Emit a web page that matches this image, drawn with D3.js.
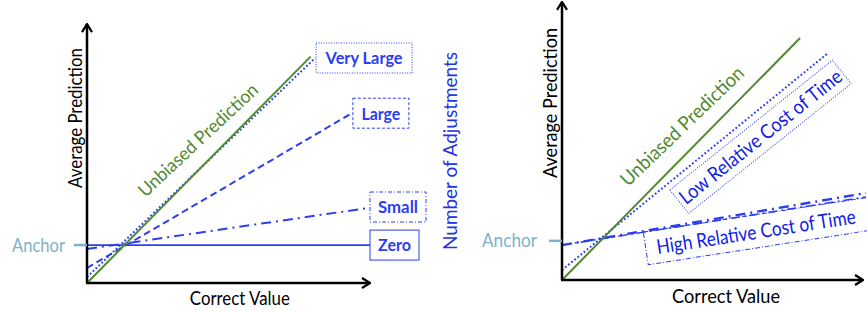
<!DOCTYPE html>
<html lang="en">
<head>
<meta charset="utf-8">
<title>anchor adjustments</title>
<script src="https://cdn.jsdelivr.net/npm/d3@7"></script>
<style>
	body { margin: 0; background: #fff; }
	text { font-family: Lato, "Open Sans", sans-serif; }
</style>
</head>
<body>
<div id="chart"></div>
<script>
// values are in "axis units", both axes run 0..100 at the same pixel rate
var anchorLeft = 13.4
var anchorRight = 13

// left panel: prediction lines by number of adjustments
var leftUnbiased = [[0, 0], [79, 80]]
var leftVeryLarge = [[0, 2.1], [80.6, 79.5]]
var leftLarge = [[0, 5.3], [93.6, 60]]
var leftSmall = [[0, 12], [99.3, 26.5]]
var leftZero = [[0, 13.4], [100, 13.4]]
var adjustLabels = ["Very Large", "Large", "Small", "Zero"]

// right panel: relative cost of time
var rightUnbiased = [[0, 0], [79.1, 80.4]]
var rightLow = [[0, 3.3], [88, 75.1]]
var rightHigh = [[0, 11.6], [101, 28.9]]
var rightHigh2 = [[0, 11.6], [101, 27.6]]
var costLabels = ["Low Relative Cost of Time", "High Relative Cost of Time"]

var w = 867
var h = 312
var blue = "#2c3ef2"
var green = "#4f8a2f"
var anchorCol = "#7db2c9"

var svg = d3.select("#chart").append("svg")
	.attr("width", w)
	.attr("height", h)

svg.append("defs").append("marker")
	.attr("id", "arrow")
	.attr("viewBox", "0 0 10 12")
	.attr("refX", 9).attr("refY", 6)
	.attr("markerWidth", 10).attr("markerHeight", 12)
	.attr("markerUnits", "userSpaceOnUse")
	.attr("orient", "auto")
	.append("path")
	.attr("d", "M1,1 L9,6 L1,11")
	.attr("fill", "none")
	.attr("stroke", "#000")
	.attr("stroke-width", 2.2)

function axes(g, x, y, yTop, xLabel, labelAt, xLabelY, len) {
	g.append("line")
		.attr("x1", x(0)).attr("y1", y(0))
		.attr("x2", x(0)).attr("y2", y(yTop))
		.attr("stroke", "#000").attr("stroke-width", 2.5)
		.attr("marker-end", "url(#arrow)")
	g.append("line")
		.attr("x1", x(0) - 1).attr("y1", y(0))
		.attr("x2", x(100)).attr("y2", y(0))
		.attr("stroke", "#000").attr("stroke-width", 2.5)
		.attr("marker-end", "url(#arrow)")
	g.append("text")
		.text(xLabel)
		.attr("x", x(labelAt))
		.attr("y", xLabelY)
		.attr("text-anchor", "middle")
		.attr("font-size", 18.5)
		.attr("fill", "#000")
		.attr("textLength", len)
		.attr("lengthAdjust", "spacingAndGlyphs")
}

function series(g, data, x, y, color, width, dash) {
	var line = d3.line()
		.x(function(d) { return x(d[0]) })
		.y(function(d) { return y(d[1]) })
	g.append("path")
		.datum(data)
		.attr("d", line)
		.attr("fill", "none")
		.attr("stroke", color)
		.attr("stroke-width", width)
		.style("stroke-dasharray", dash)
}

function anchorMark(g, x, y, val, textX, len) {
	g.append("line")
		.attr("x1", x(0) - 13).attr("x2", x(0))
		.attr("y1", y(val)).attr("y2", y(val))
		.attr("stroke", anchorCol).attr("stroke-width", 2.5)
	g.append("text")
		.text("Anchor")
		.attr("x", textX)
		.attr("y", y(val))
		.attr("dy", "0.35em")
		.attr("font-size", 18.5)
		.attr("fill", anchorCol)
		.attr("textLength", len)
		.attr("lengthAdjust", "spacingAndGlyphs")
}

function rotLabel(g, txt, cx, cy, angle, size, color, len) {
	g.append("text")
		.text(txt)
		.attr("transform", "translate(" + cx + "," + cy + ") rotate(" + angle + ")")
		.attr("text-anchor", "middle")
		.attr("dy", "0.35em")
		.attr("font-size", size)
		.attr("fill", color)
		.attr("textLength", len)
		.attr("lengthAdjust", "spacingAndGlyphs")
}

// ---------- left panel
var xL = d3.scaleLinear().domain([0, 100]).range([87, 370])
var yL = d3.scaleLinear().domain([0, 100]).range([283, 0])
var gL = svg.append("g")

series(gL, leftZero, xL, yL, blue, 1.8, null)
series(gL, leftSmall, xL, yL, blue, 2, "10,5,2,5")
series(gL, leftLarge, xL, yL, blue, 2, "7,4")
series(gL, leftVeryLarge, xL, yL, blue, 2, "1.8,2.2")
series(gL, leftUnbiased, xL, yL, green, 2, null)
axes(gL, xL, yL, 91.5, "Correct Value", 54, 305, 100)
anchorMark(gL, xL, yL, anchorLeft, 12, 53)

rotLabel(gL, "Average Prediction", 75, 118, -90, 19, "#000", 140)
rotLabel(gL, "Unbiased Prediction", 198, 140, -43, 18.5, green, 156)
rotLabel(gL, "Number of Adjustments", 450, 151, -90, 19.5, "#2233e8", 198)

// label boxes sit at the right end of each adjustment line
var leftEnds = [leftVeryLarge, leftLarge, leftSmall, leftZero]
var boxW = [96, 56, 56, 49]
var boxDash = ["1,1.5", "3,2", "4,2,1,2", null]
var textW = [77, 39, 40, 33]
leftEnds.forEach(function(s, i) {
	var end = s[s.length - 1]
	var bx = xL(end[0]) + 1
	var by = yL(end[1]) - 15
	if (i == 3) { bx = 370 }
	if (i == 2) { bx = 370; by = yL(end[1]) - 16 }
	gL.append("rect")
		.attr("x", bx).attr("y", by)
		.attr("width", boxW[i]).attr("height", 30)
		.attr("fill", "#fff")
		.attr("stroke", blue)
		.attr("stroke-width", 1)
		.style("stroke-dasharray", boxDash[i])
	gL.append("text")
		.text(adjustLabels[i])
		.attr("x", bx + boxW[i] / 2)
		.attr("y", by + 15)
		.attr("dy", "0.36em")
		.attr("text-anchor", "middle")
		.attr("font-size", 17.5)
		.attr("font-weight", "bold")
		.attr("fill", blue)
		.attr("textLength", textW[i])
		.attr("lengthAdjust", "spacingAndGlyphs")
})

// ---------- right panel
var xR = d3.scaleLinear().domain([0, 100]).range([562, 863])
var yR = d3.scaleLinear().domain([0, 100]).range([280, -21])
var gR = svg.append("g")

series(gR, rightHigh2, xR, yR, blue, 1.6, "9,4,2,4")
series(gR, rightHigh, xR, yR, blue, 2.4, "10,5,2,5")
series(gR, rightLow, xR, yR, blue, 2, "1.8,2.2")
series(gR, rightUnbiased, xR, yR, green, 2, null)
axes(gR, xR, yR, 92.4, "Correct Value", 54.5, 303, 108)
anchorMark(gR, xR, yR, anchorRight, 482, 55)

rotLabel(gR, "Average Prediction", 550, 103, -90, 20, "#000", 150)
rotLabel(gR, "Unbiased Prediction", 682, 126, -43.8, 19.5, green, 163)

// low cost box follows the dotted line
var lowEnd = rightLow[1]
var gLow = gR.append("g")
	.attr("transform", "translate(" + (xR(lowEnd[0]) - 157) + "," + (yR(lowEnd[1]) + 136) + ") rotate(-38.6)")
gLow.append("rect")
	.attr("width", 208).attr("height", 30)
	.attr("fill", "none")
	.attr("stroke", blue).attr("stroke-width", 1)
	.style("stroke-dasharray", "1,1.5")
gLow.append("text")
	.text(costLabels[0])
	.attr("x", 104).attr("y", 15)
	.attr("dy", "0.35em")
	.attr("text-anchor", "middle")
	.attr("font-size", 20)
	.attr("fill", "#1020e6")
	.attr("textLength", 202)
	.attr("lengthAdjust", "spacingAndGlyphs")

// high cost box below the dash-dot line
var gHigh = gR.append("g")
	.attr("transform", "translate(" + xR(27) + "," + (yR(rightHigh[0][1]) - 13) + ") rotate(-8.8)")
gHigh.append("rect")
	.attr("width", 240).attr("height", 33)
	.attr("fill", "none")
	.attr("stroke", blue).attr("stroke-width", 1)
	.style("stroke-dasharray", "5,2,1,2")
gHigh.append("text")
	.text(costLabels[1])
	.attr("x", 11).attr("y", 17)
	.attr("dy", "0.35em")
	.attr("font-size", 20)
	.attr("fill", "#1020e6")
	.attr("textLength", 201)
	.attr("lengthAdjust", "spacingAndGlyphs")
</script>
</body>
</html>
